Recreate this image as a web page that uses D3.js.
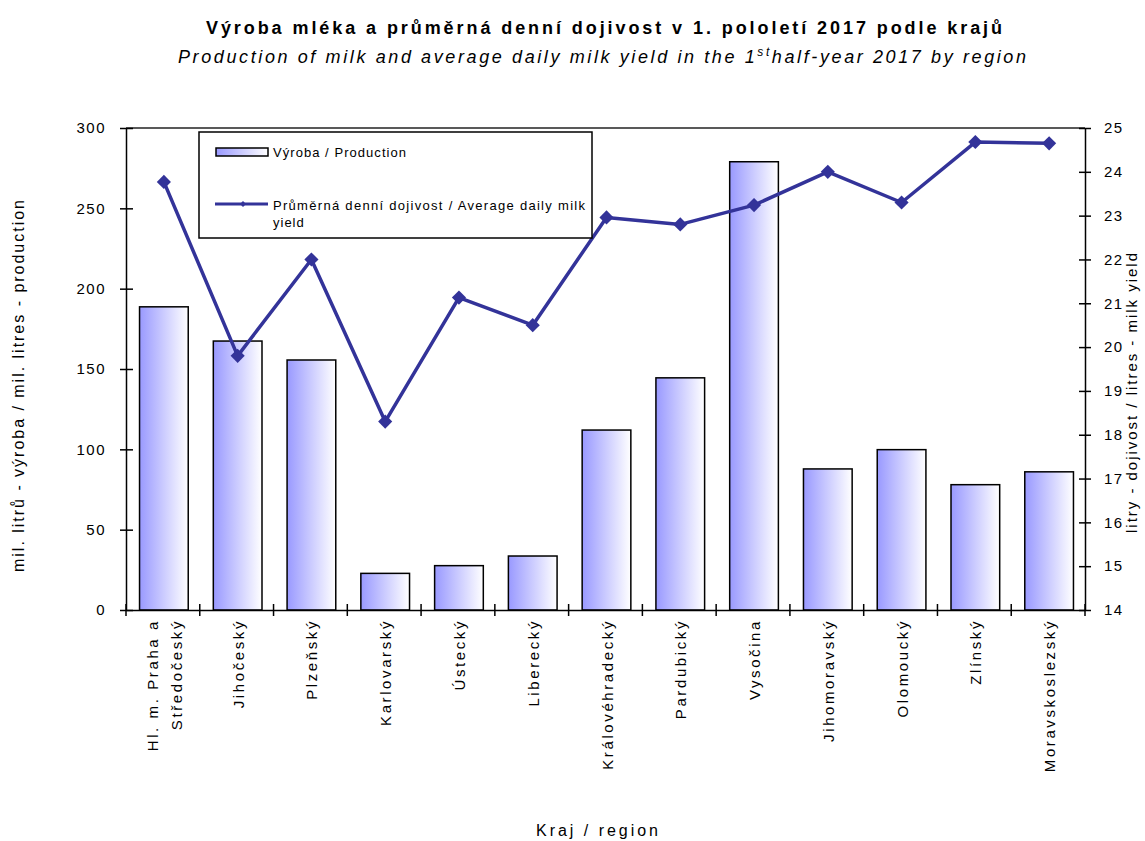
<!DOCTYPE html>
<html>
<head>
<meta charset="utf-8">
<title>Výroba mléka a dojivost 2017</title>
<script src="https://d3js.org/d3.v7.min.js"></script>
<style>
  body { margin: 0; background: #fff; }
  svg text { font-family: "Liberation Sans", Arial, sans-serif; fill: #000; }
  .axis path, .axis line { stroke: #000; stroke-width: 1.5; }
  .tick text { font-size: 15px; letter-spacing: 1.5px; }
</style>
</head>
<body>
<script>
// data
var regions = ["Hl. m. Praha a\nStředočeský", "Jihočeský", "Plzeňský", "Karlovarský", "Ústecký",
  "Liberecký", "Královéhradecký", "Pardubický", "Vysočina", "Jihomoravský", "Olomoucký",
  "Zlínský", "Moravskoslezský"];
var production = [188.7, 167.4, 155.6, 22.8, 27.6, 33.6, 112, 144.5, 279, 87.8, 99.8, 78, 86];
var milkYield = [23.77, 19.8, 22.0, 18.3, 21.13, 20.5, 22.96, 22.8, 23.24, 24.0, 23.3, 24.68, 24.65];
var leftTicks = [0, 50, 100, 150, 200, 250, 300];
var rightTicks = [14, 15, 16, 17, 18, 19, 20, 21, 22, 23, 24, 25];

var W = 1145, H = 841;
var L = 126, R = 1085, T = 128, B = 610;

var svg = d3.select("body").append("svg")
  .attr("width", W).attr("height", H);

var defs = svg.append("defs");
var grad = defs.append("linearGradient").attr("id", "barGrad")
  .attr("x1", "0%").attr("x2", "100%").attr("y1", "0%").attr("y2", "0%");
grad.append("stop").attr("offset", "0%").attr("stop-color", "#9999ff");
grad.append("stop").attr("offset", "100%").attr("stop-color", "#ffffff");

var x = d3.scaleBand().domain(regions).range([L, R])
  .paddingInner(0.34).paddingOuter(0.17);
var y = d3.scaleLinear().domain([0, 300]).range([B, T]);
var y2 = d3.scaleLinear().domain([14, 25]).range([B, T]);

// titles
svg.append("text")
  .attr("x", 604).attr("y", 34)
  .attr("text-anchor", "middle")
  .attr("textLength", 796).attr("lengthAdjust", "spacing")
  .style("font-size", "18px").style("font-weight", "bold")
  .text("Výroba mléka a průměrná denní dojivost v 1. pololetí 2017 podle krajů");

var sub = svg.append("text")
  .attr("x", 602).attr("y", 63)
  .attr("text-anchor", "middle")
  .attr("textLength", 848).attr("lengthAdjust", "spacing")
  .style("font-size", "18px").style("font-style", "italic");
sub.append("tspan").text("Production of milk and average daily milk yield in the 1");
sub.append("tspan").attr("dy", -7).style("font-size", "12px").text("st");
sub.append("tspan").attr("dy", 7).text("half-year 2017 by region");

// top border of plot area
svg.append("line")
  .attr("x1", L).attr("x2", R).attr("y1", T).attr("y2", T)
  .attr("stroke", "#222").attr("stroke-width", 1.5);

// bars
svg.selectAll("rect.bar")
  .data(regions)
  .enter().append("rect")
  .attr("class", "bar")
  .attr("x", function(d) { return x(d) + 1; })
  .attr("y", function(d, i) { return y(production[i]); })
  .attr("width", x.bandwidth())
  .attr("height", function(d, i) { return B - y(production[i]); })
  .attr("fill", "url(#barGrad)")
  .attr("stroke", "#000")
  .attr("stroke-width", 1.5);

// left axis
var gl = svg.append("g").attr("class", "axis")
  .attr("transform", "translate(" + L + ",0)")
  .call(d3.axisLeft(y).tickValues(leftTicks).tickSizeOuter(0).tickPadding(14));
gl.selectAll(".tick line").attr("x1", -6).attr("x2", 7);

// right axis
var gr = svg.append("g").attr("class", "axis")
  .attr("transform", "translate(" + R + ",0)")
  .call(d3.axisRight(y2).tickValues(rightTicks).tickSizeOuter(0).tickPadding(13));
gr.selectAll(".tick line").attr("x1", -6).attr("x2", 6);

// bottom axis, ticks between categories
var gb = svg.append("g").attr("class", "axis")
  .attr("transform", "translate(0," + B + ")")
  .call(d3.axisBottom(x).tickSize(0).tickSizeOuter(0).tickFormat(""));
gb.select(".domain").attr("stroke-width", 2.5);
var step = x.step();
gb.selectAll("line.sep")
  .data(d3.range(regions.length + 1))
  .enter().append("line")
  .attr("class", "sep")
  .attr("x1", function(i) { return L + i * step; })
  .attr("x2", function(i) { return L + i * step; })
  .attr("y1", -6).attr("y2", 6)
  .attr("stroke", "#000").attr("stroke-width", 1.5);

// category labels, rotated
regions.forEach(function(name, i) {
  var lines = name.split("\n");
  var cx = x(name) + x.bandwidth() / 2 + 1;
  lines.forEach(function(t, j) {
    var off = (j - (lines.length - 1) / 2) * 24;
    svg.append("text")
      .attr("transform", "translate(" + (cx + off + 6) + "," + 619 + ") rotate(-90)")
      .attr("text-anchor", "end")
      .style("font-size", "15px")
      .style("letter-spacing", "2.6px")
      .text(t);
  });
});

// yield line
var pts = regions.map(function(d, i) {
  return [x(d) + x.bandwidth() / 2 + 1, y2(milkYield[i])];
});
svg.append("path")
  .attr("d", d3.line()(pts))
  .attr("fill", "none")
  .attr("stroke", "#333399")
  .attr("stroke-width", 3.5)
  .attr("stroke-linejoin", "round");

svg.selectAll("path.mk")
  .data(pts)
  .enter().append("path")
  .attr("class", "mk")
  .attr("d", d3.symbol().type(d3.symbolSquare).size(100))
  .attr("transform", function(p) { return "translate(" + p[0] + "," + p[1] + ") rotate(45)"; })
  .attr("fill", "#333399");

// axis titles
svg.append("text")
  .attr("transform", "translate(24,386) rotate(-90)")
  .attr("text-anchor", "middle")
  .attr("textLength", 372).attr("lengthAdjust", "spacing")
  .style("font-size", "16px")
  .text("mil. litrů - výroba / mil. litres - production");

svg.append("text")
  .attr("transform", "translate(1137,393) rotate(-90)")
  .attr("text-anchor", "middle")
  .attr("textLength", 280).attr("lengthAdjust", "spacing")
  .style("font-size", "15px")
  .text("litry - dojivost / litres - milk yield");

svg.append("text")
  .attr("x", 597).attr("y", 836)
  .attr("text-anchor", "middle")
  .attr("textLength", 122).attr("lengthAdjust", "spacing")
  .style("font-size", "16px")
  .text("Kraj / region");

// legend
var lg = svg.append("g");
lg.append("rect")
  .attr("x", 199).attr("y", 132).attr("width", 393).attr("height", 106)
  .attr("fill", "#fff").attr("stroke", "#000").attr("stroke-width", 1.5);
lg.append("rect")
  .attr("x", 216).attr("y", 148).attr("width", 52).attr("height", 8)
  .attr("fill", "url(#barGrad)").attr("stroke", "#000").attr("stroke-width", 1.5);
lg.append("text")
  .attr("x", 273).attr("y", 157)
  .attr("textLength", 133).attr("lengthAdjust", "spacing")
  .style("font-size", "13px")
  .text("Výroba / Production");
lg.append("line")
  .attr("x1", 215).attr("x2", 268).attr("y1", 204).attr("y2", 204)
  .attr("stroke", "#333399").attr("stroke-width", 3);
lg.append("path")
  .attr("d", d3.symbol().type(d3.symbolSquare).size(18))
  .attr("transform", "translate(243,204) rotate(45)")
  .attr("fill", "#333399");
lg.append("text")
  .attr("x", 273).attr("y", 210)
  .attr("textLength", 312).attr("lengthAdjust", "spacing")
  .style("font-size", "13px")
  .text("Průměrná denní dojivost / Average daily milk");
lg.append("text")
  .attr("x", 273).attr("y", 227)
  .style("font-size", "13px").style("letter-spacing", "1px")
  .text("yield");
</script>
</body>
</html>
